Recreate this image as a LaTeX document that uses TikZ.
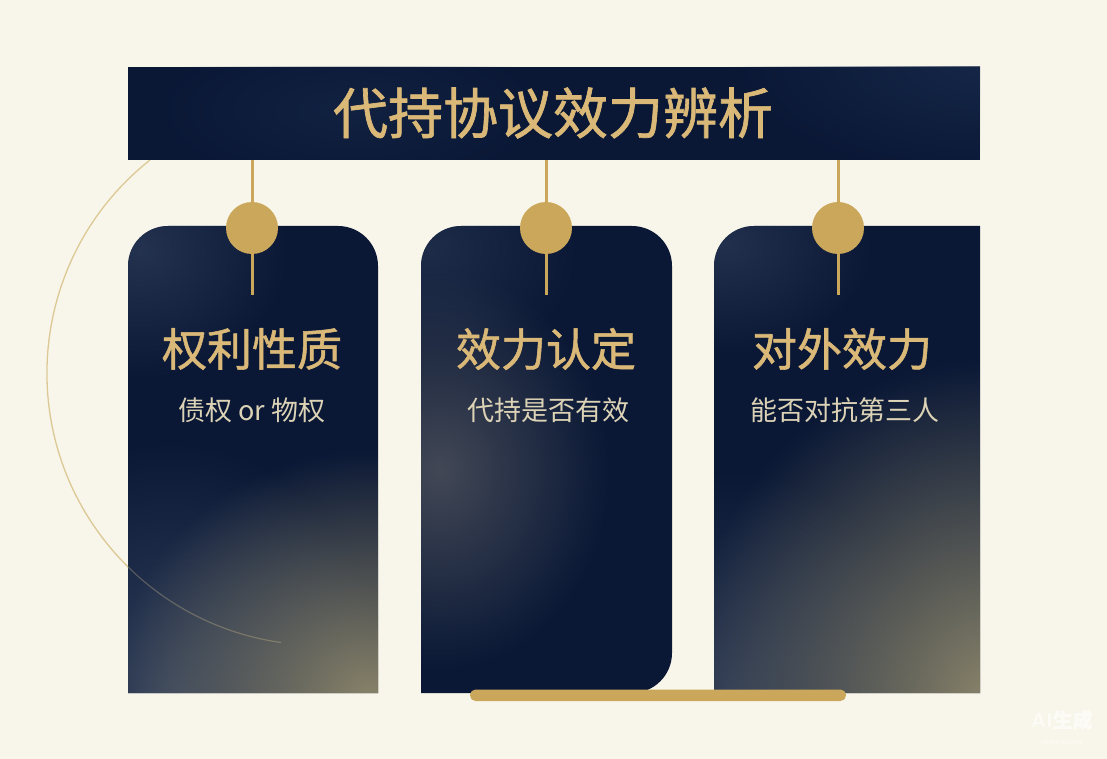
\documentclass[tikz,border=0pt]{standalone}
\usepackage{fontspec}
\newfontfamily\cjk{Noto Sans CJK SC}
\newfontfamily\cjkb{Noto Sans CJK SC}[FakeBold=1.2]
\usetikzlibrary{fadings}
\tikzfading[name=glow, inner color=transparent!0, outer color=transparent!100]
\definecolor{bg}{HTML}{F8F6EA}
\definecolor{navy}{HTML}{0A1836}
\definecolor{navylite}{HTML}{1A2B4C}
\definecolor{gold}{HTML}{CBA75B}
\definecolor{goldtxt}{HTML}{DAB878}
\definecolor{subtxt}{HTML}{DCD2B6}
\definecolor{olive}{HTML}{8A846A}
\definecolor{steel}{HTML}{354460}
\definecolor{greyish}{HTML}{555860}
\definecolor{arcgold}{HTML}{DCC894}
\tikzset{
  dot/.style={circle, fill=gold, minimum size=52pt, inner sep=0pt},
  stem/.style={draw=gold, line width=3pt},
  headtxt/.style={text=goldtxt, font=\cjkb\fontsize{45}{50}\selectfont},
  subtxtstyle/.style={text=subtxt, font=\cjk\fontsize{27}{32}\selectfont},
  glowfill/.style={path fading=glow},
}
\begin{document}
\begin{tikzpicture}[x=1pt,y=-1pt]
\useasboundingbox (0,0) rectangle (1107,759);
\fill[bg] (0,0) rectangle (1107,759);

% big faint arc (behind)
\draw[arcgold, line width=1.3pt] (150,160) arc[start angle=128.4, end angle=262, radius=272pt];

% title bar
\begin{scope}
\clip (128,67) rectangle (980,160);
\fill[navy] (128,67) rectangle (980,160);
\fill[navylite, glowfill, opacity=0.8] (990,60) ellipse[x radius=260pt, y radius=120pt];
\fill[navylite, glowfill, opacity=0.5] (350,110) ellipse[x radius=200pt, y radius=80pt];
\end{scope}
\node[inner sep=0pt, minimum width=852pt, minimum height=93pt] (title) at (554,113.5) {};
\node[text=goldtxt, font=\cjkb\fontsize{55}{60}\selectfont] (titletxt) at (553,113) {代持协议效力辨析};

% card 1
\begin{scope}
\clip (128,693) -- (128,266) arc[start angle=180, end angle=90, radius=40pt] -- (338,226) arc[start angle=90, end angle=0, radius=40pt] -- (378,693) -- cycle;
\fill[navy] (100,200) rectangle (400,700);
\fill[steel, glowfill, opacity=0.6] (140,250) ellipse[x radius=150pt, y radius=130pt];
\fill[steel, glowfill, opacity=0.9] (170,700) ellipse[x radius=220pt, y radius=260pt];
\fill[olive, glowfill] (370,700) ellipse[x radius=260pt, y radius=250pt];
\end{scope}
\path (128,226) rectangle (378,693) node[pos=0.5, inner sep=0pt] (card1) {};

% card 2
\begin{scope}
\clip (421,693) -- (421,266) arc[start angle=180, end angle=90, radius=40pt] -- (632,226) arc[start angle=90, end angle=0, radius=40pt] -- (672,653) arc[start angle=0, end angle=-90, radius=40pt] -- cycle;
\fill[navy] (400,200) rectangle (700,700);
\fill[steel, glowfill, opacity=0.45] (430,250) ellipse[x radius=150pt, y radius=120pt];
\fill[greyish, glowfill, opacity=0.75] (440,470) ellipse[x radius=170pt, y radius=200pt];
\end{scope}
\path (421,226) rectangle (672,693) node[pos=0.5, inner sep=0pt] (card2) {};

% card 3
\begin{scope}
\clip (714,693) -- (714,266) arc[start angle=180, end angle=90, radius=40pt] -- (980,226) -- (980,693) -- cycle;
\fill[navy] (700,200) rectangle (1000,700);
\fill[steel, glowfill, opacity=0.55] (725,245) ellipse[x radius=150pt, y radius=110pt];
\fill[steel, glowfill, opacity=0.7] (730,690) ellipse[x radius=200pt, y radius=220pt];
\fill[olive, glowfill] (990,700) ellipse[x radius=310pt, y radius=340pt];
\end{scope}
\path (714,226) rectangle (980,693) node[pos=0.5, inner sep=0pt] (card3) {};

% arc faint over cards
\begin{scope}
\clip (128,420) rectangle (378,693);
\draw[arcgold, line width=1.2pt, opacity=0.3] (150,160) arc[start angle=128.4, end angle=262, radius=272pt];
\end{scope}

% connectors and dots
\node[dot] (d1) at (252,228) {};
\node[dot] (d2) at (546,228) {};
\node[dot] (d3) at (838,228) {};
\coordinate (e1) at (252,295);
\coordinate (e2) at (546,295);
\coordinate (e3) at (838,295);
\draw[stem] (title.south -| d1) -- (d1.north);
\draw[stem] (title.south -| d2) -- (d2.north);
\draw[stem] (title.south -| d3) -- (d3.north);
\draw[stem] (d1.south) -- (e1);
\draw[stem] (d2.south) -- (e2);
\draw[stem] (d3.south) -- (e3);

% card texts
\node[headtxt] (h1) at (252,349) {权利性质};
\node[subtxtstyle] (s1) at (252,410) {债权 or 物权};
\node[headtxt] (h2) at (546,349) {效力认定};
\node[subtxtstyle] (s2) at (548,410) {代持是否有效};
\node[headtxt] (h3) at (842,349) {对外效力};
\node[subtxtstyle] (s3) at (845,410) {能否对抗第三人};

% bottom gold bar
\fill[gold, rounded corners=5.5pt] (470,689.5) rectangle (846,701) node[pos=0.5, inner sep=0pt] (bar) {};

% watermark
\node[text=white, opacity=0.6, font=\sffamily\bfseries\fontsize{20}{22}\selectfont] (wm) at (1062,720) {AI\cjkb 生成};
\node[text=white, opacity=0.6, font=\sffamily\bfseries\fontsize{6}{7}\selectfont] (wm2) at (1062,742) {WORKBUDDY};
\end{tikzpicture}
\end{document}
